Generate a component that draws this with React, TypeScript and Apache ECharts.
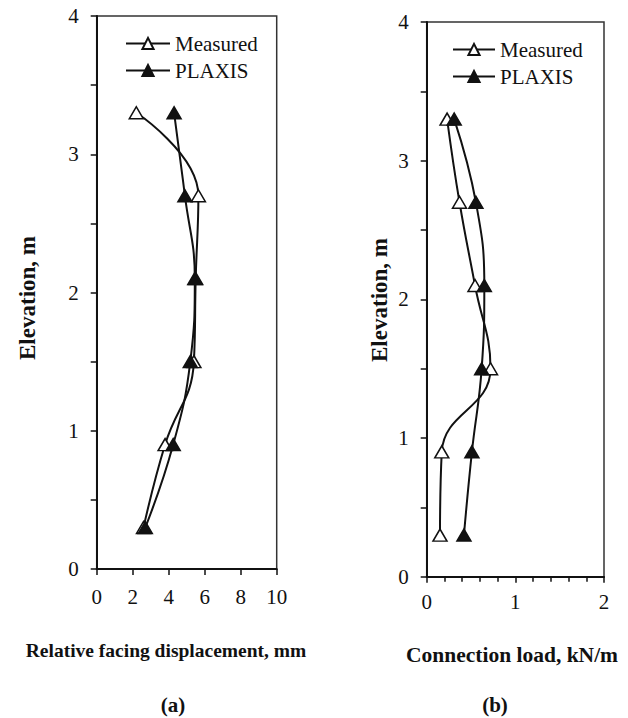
import React, { useEffect, useRef } from "react";
import * as echarts from "echarts";

const elevations = [3.3, 2.7, 2.1, 1.5, 0.9, 0.3];
const dispMeasured = [2.2, 5.65, 5.5, 5.4, 3.8, 2.6];
const dispPlaxis = [4.3, 4.9, 5.45, 5.2, 4.25, 2.7];
const loadMeasured = [0.23, 0.37, 0.545, 0.72, 0.17, 0.15];
const loadPlaxis = [0.31, 0.555, 0.65, 0.62, 0.51, 0.42];
const seriesNames = ["Measured", "PLAXIS"];
const titleA = "Relative facing displacement, mm";
const titleB = "Connection load, kN/m";
const yTitle = "Elevation, m";

const FONT = "Liberation Serif";
const INK = "#111";

function pairs(xs: number[]) {
  return xs.map((x, i) => [x, elevations[i]]);
}

export default function App() {
  const ref = useRef<HTMLDivElement>(null);
  useEffect(() => {
    document.body.style.margin = "0";
    const chart = echarts.init(ref.current!, null, { renderer: "svg" });
    const axisLabel = { color: INK, fontFamily: FONT, fontSize: 21 };
    const axisLine = { show: true, onZero: false, lineStyle: { color: INK, width: 2 } };
    const mkSeries = (name: string, xi: number, data: number[][], open: boolean) => ({
      name,
      type: "line",
      xAxisIndex: xi,
      yAxisIndex: xi,
      data,
      smooth: 0.45,
      symbol: "triangle",
      symbolSize: [14, 12],
      lineStyle: { color: INK, width: 2 },
      itemStyle: { color: open ? "#fff" : INK, borderColor: INK, borderWidth: 1.5 },
      z: open ? 3 : 4,
    });
    const textStyle = { color: INK, fontFamily: FONT, fontSize: 21 };
    chart.setOption({
      animation: false,
      textStyle: { fontFamily: FONT },
      grid: [
        { left: 96.7, top: 16, width: 180, height: 553, show: true, borderColor: "#333", borderWidth: 1.5 },
        { left: 426.7, top: 22, width: 177.3, height: 554.7, show: true, borderColor: "#333", borderWidth: 1.5 },
      ],
      xAxis: [
        {
          gridIndex: 0, type: "value", min: 0, max: 10, interval: 2,
          axisLine, axisTick: { show: true, inside: false, length: 6, lineStyle: { color: INK, width: 1.5 } },
          axisLabel: { ...axisLabel, margin: 17 }, splitLine: { show: false },
        },
        {
          gridIndex: 1, type: "value", min: 0, max: 2, interval: 1,
          axisLine, axisTick: { show: true, inside: false, length: 6, lineStyle: { color: INK, width: 1.5 } },
          minorTick: { show: true, splitNumber: 5, length: 5, lineStyle: { color: INK, width: 1.5 } },
          axisLabel: { ...axisLabel, margin: 15 }, splitLine: { show: false }, minorSplitLine: { show: false },
        },
      ],
      yAxis: [0, 1].map((gi) => ({
        gridIndex: gi, type: "value", min: 0, max: 4, interval: 1,
        axisLine, axisTick: { show: true, inside: false, length: 6, lineStyle: { color: INK, width: 1.5 } },
        minorTick: { show: true, splitNumber: 2, length: 6, lineStyle: { color: INK, width: 1.5 } },
        axisLabel: { ...axisLabel, margin: 18 }, splitLine: { show: false }, minorSplitLine: { show: false },
      })),
      legend: [
        {
          orient: "vertical", left: 120, top: 28, itemWidth: 44, itemHeight: 14, itemGap: 6,
          data: seriesNames, textStyle, selectedMode: false,
        },
        {
          orient: "vertical", left: 447, top: 34, itemWidth: 42, itemHeight: 14, itemGap: 6,
          data: seriesNames, textStyle, selectedMode: false,
        },
      ],
      series: [
        mkSeries(seriesNames[0], 0, pairs(dispMeasured), true),
        mkSeries(seriesNames[1], 0, pairs(dispPlaxis), false),
        mkSeries(seriesNames[0], 1, pairs(loadMeasured), true),
        mkSeries(seriesNames[1], 1, pairs(loadPlaxis), false),
      ],
      graphic: [
        { type: "text", x: 27, y: 298, rotation: Math.PI / 2, style: { text: yTitle, fill: INK, fontFamily: FONT, fontWeight: "bold", fontSize: 23, align: "center", verticalAlign: "middle" } },
        { type: "text", x: 379, y: 300, rotation: Math.PI / 2, style: { text: yTitle, fill: INK, fontFamily: FONT, fontWeight: "bold", fontSize: 23, align: "center", verticalAlign: "middle" } },
        { type: "text", x: 166, y: 650, style: { text: titleA, fill: INK, fontFamily: FONT, fontWeight: "bold", fontSize: 19.5, align: "center", verticalAlign: "middle" } },
        { type: "text", x: 512, y: 655, style: { text: titleB, fill: INK, fontFamily: FONT, fontWeight: "bold", fontSize: 21.5, align: "center", verticalAlign: "middle" } },
        { type: "text", x: 173, y: 705, style: { text: "(a)", fill: INK, fontFamily: FONT, fontWeight: "bold", fontSize: 21, align: "center", verticalAlign: "middle" } },
        { type: "text", x: 495, y: 705, style: { text: "(b)", fill: INK, fontFamily: FONT, fontWeight: "bold", fontSize: 21, align: "center", verticalAlign: "middle" } },
      ],
    });
    return () => chart.dispose();
  }, []);
  return <div ref={ref} style={{ width: 628, height: 718 }} />;
}
